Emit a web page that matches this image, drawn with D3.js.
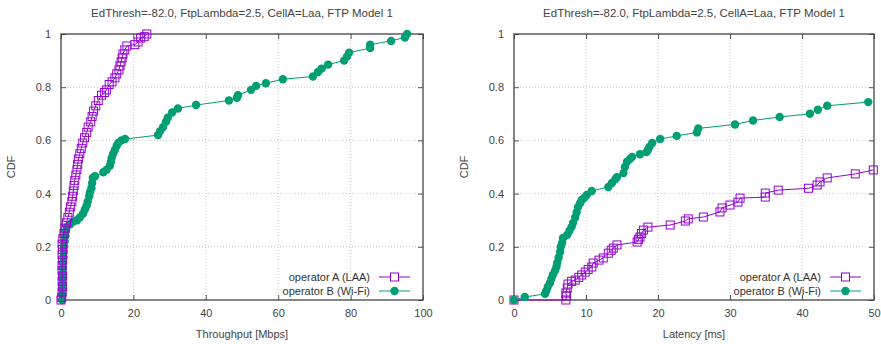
<!DOCTYPE html>
<html>
<head>
<meta charset="utf-8">
<script src="https://cdn.jsdelivr.net/npm/d3@7"></script>
<style>
  html, body { margin: 0; padding: 0; background: #fff; }
  svg { display: block; font-family: "Liberation Sans", Arial, sans-serif; }
  .tick-label { font-size: 11px; fill: #444; }
  .title { font-size: 11.5px; fill: #444; }
  .axis-label { font-size: 11px; fill: #444; }
  .legend-text { font-size: 11px; fill: #333; }
</style>
</head>
<body>
<svg id="chart" width="881" height="344"></svg>
<script>
// ── data (CDF curves) ──
const TITLE = 'EdThresh=-82.0, FtpLambda=2.5, CellA=Laa, FTP Model 1';
const cdfTicks = [0, 0.2, 0.4, 0.6, 0.8, 1];
const thrTicks = [0, 20, 40, 60, 80, 100];
const latTicks = [0, 10, 20, 30, 40, 50];
const seriesNames = ['operator A (LAA)', 'operator B (Wi-Fi)'];

// throughput [Mbps], operator A (LAA)
const thrLAA = [
  [0,0],[0.2,0.01],[0.3,0.03],[0.4,0.05],[0.3,0.07],[0.4,0.09],[0.3,0.11],[0.3,0.13],
  [0.4,0.15],[0.3,0.17],[0.4,0.19],[0.3,0.21],[0.5,0.23],[0.8,0.25],[1.1,0.27],[1.5,0.29],
  [1.9,0.31],[2.3,0.33],[2.6,0.35],[3.0,0.37],[3.2,0.39],[3.4,0.41],[3.6,0.43],[3.8,0.45],
  [4.1,0.47],[4.4,0.49],[4.6,0.51],[4.8,0.53],[5.2,0.55],[5.6,0.57],[6.0,0.59],[6.5,0.61],
  [7.1,0.63],[7.5,0.65],[8.2,0.67],[8.6,0.69],[9.0,0.71],[9.6,0.73],[10.3,0.75],[11.2,0.77],
  [12.0,0.78],[12.6,0.79],[13.3,0.81],[14.1,0.82],[14.9,0.835],[15.4,0.85],[16.0,0.865],
  [16.3,0.88],[16.6,0.895],[16.9,0.91],[17.1,0.925],[17.6,0.94],[18.2,0.955],[20.4,0.96],
  [21.3,0.97],[22.0,0.985],[23.0,0.99],[23.7,1.0]
];
// throughput [Mbps], operator B (Wi-Fi)
const thrWiFi = [
  [0.3,0],[0.4,0.02],[0.3,0.04],[0.5,0.06],[0.4,0.08],[0.5,0.10],[0.5,0.12],[0.6,0.14],
  [0.7,0.16],[0.8,0.18],[0.9,0.20],[1.0,0.22],[1.2,0.24],[1.4,0.26],[1.6,0.275],[2.5,0.285],
  [3.4,0.295],[4.4,0.30],[5.2,0.31],[6.1,0.325],[6.6,0.34],[7.1,0.355],[7.4,0.37],[7.8,0.39],
  [8.0,0.405],[8.4,0.42],[8.6,0.44],[8.8,0.46],[9.4,0.465],[11.7,0.48],[12.6,0.49],[13.5,0.505],
  [13.8,0.52],[14.0,0.535],[14.4,0.55],[14.9,0.565],[15.4,0.58],[15.8,0.59],[16.7,0.60],
  [17.7,0.605],[26.8,0.62],[27.4,0.635],[28.2,0.65],[29.0,0.67],[29.5,0.685],[30.7,0.705],
  [32.3,0.72],[37.3,0.733],[46.4,0.75],[48.6,0.76],[48.9,0.77],[52.5,0.79],[53.9,0.805],
  [56.6,0.815],[61.3,0.83],[69.6,0.84],[71,0.857],[72,0.87],[73.8,0.885],[78.2,0.90],
  [79,0.915],[79.6,0.93],[85.4,0.947],[85.4,0.96],[91.2,0.974],[95.0,0.987],[95.6,1.0]
];
// latency [ms], operator A (LAA)
const latLAA = [
  [0,0],[7.2,0.0],[7.3,0.015],[7.2,0.026],[7.4,0.045],[7.5,0.06],[8.0,0.07],[8.5,0.075],
  [9.0,0.085],[9.4,0.094],[9.9,0.105],[10.3,0.115],[10.8,0.124],[11.0,0.139],[11.8,0.15],
  [12.4,0.158],[13.1,0.176],[13.5,0.187],[13.8,0.195],[14.3,0.207],[17.1,0.218],[17.3,0.228],
  [17.5,0.237],[17.7,0.25],[18.0,0.263],[18.6,0.274],[21.7,0.282],[23.8,0.297],[24.2,0.305],
  [26.3,0.312],[28.6,0.331],[28.9,0.346],[30,0.357],[31.1,0.368],[31.4,0.383],[34.9,0.387],
  [34.9,0.402],[36.7,0.413],[40.9,0.42],[42.1,0.432],[42.5,0.444],[43.5,0.459],[47.4,0.474],
  [49.9,0.489]
];
// latency [ms], operator B (Wi-Fi)
const latWiFi = [
  [0,0],[1.5,0.011],[4.3,0.023],[4.5,0.035],[4.7,0.05],[5.0,0.064],[5.2,0.08],[5.4,0.095],
  [5.7,0.11],[5.9,0.125],[6.0,0.14],[6.2,0.16],[6.4,0.18],[6.5,0.20],[6.7,0.215],[6.8,0.233],
  [7.4,0.245],[7.7,0.26],[8.0,0.275],[8.2,0.29],[8.5,0.31],[8.7,0.33],[8.9,0.35],[9.2,0.365],
  [9.4,0.376],[9.8,0.385],[10.1,0.395],[10.8,0.41],[13.1,0.425],[13.6,0.44],[14.1,0.455],
  [14.3,0.462],[15.2,0.477],[15.4,0.50],[15.7,0.52],[16.1,0.53],[16.4,0.538],[17.5,0.548],
  [18.4,0.556],[18.6,0.565],[18.8,0.575],[19.2,0.59],[20.3,0.605],[22.6,0.617],[25.4,0.63],
  [25.6,0.645],[30.7,0.66],[33.2,0.675],[36.9,0.688],[41.1,0.70],[42.2,0.715],[43.5,0.73],
  [49.2,0.744]
];

const COLOR_A = '#9400d3';
const COLOR_B = '#009e73';

const svg = d3.select('#chart');

function drawPanel(cfg) {
  const x = d3.scaleLinear().domain(cfg.xDomain).range([cfg.left, cfg.right]);
  const y = d3.scaleLinear().domain([0, 1]).range([cfg.bottom, cfg.top]);
  const g = svg.append('g');
  const clipId = 'clip-' + cfg.id;

  g.append('clipPath').attr('id', clipId)
    .append('rect')
    .attr('x', cfg.left - 6).attr('y', cfg.top - 6)
    .attr('width', cfg.right - cfg.left + 12).attr('height', cfg.bottom - cfg.top + 12);

  // grid (dotted)
  g.append('g').selectAll('line.gx')
    .data(cfg.xTicks.slice(1, -1))
    .join('line')
    .attr('x1', d => x(d)).attr('x2', d => x(d))
    .attr('y1', cfg.top).attr('y2', cfg.bottom)
    .attr('stroke', '#c8c8c8').attr('stroke-dasharray', '1,2');
  g.append('g').selectAll('line.gy')
    .data(cdfTicks.slice(1, -1))
    .join('line')
    .attr('x1', cfg.left).attr('x2', cfg.right)
    .attr('y1', d => y(d)).attr('y2', d => y(d))
    .attr('stroke', '#c8c8c8').attr('stroke-dasharray', '1,2');

  // axes with inward mirrored ticks
  const axisBottom = d3.axisBottom(x).tickValues(cfg.xTicks).tickSize(-5).tickPadding(9).tickFormat(d3.format('d'));
  const axisTop = d3.axisTop(x).tickValues(cfg.xTicks).tickSize(-5).tickFormat('');
  const axisLeft = d3.axisLeft(y).tickValues(cdfTicks).tickSize(-5).tickPadding(10).tickFormat(d => d);
  const axisRight = d3.axisRight(y).tickValues(cdfTicks).tickSize(-5).tickFormat('');

  const styleAxis = sel => {
    sel.select('.domain').remove();
    sel.selectAll('.tick line').attr('stroke', '#555');
    sel.selectAll('.tick text').attr('class', 'tick-label').attr('fill', null)
      .style('font-size', null).style('font-family', null);
  };
  g.append('g').attr('transform', `translate(0,${cfg.bottom})`).call(axisBottom).call(styleAxis);
  g.append('g').attr('transform', `translate(0,${cfg.top})`).call(axisTop).call(styleAxis);
  g.append('g').attr('transform', `translate(${cfg.left},0)`).call(axisLeft).call(styleAxis);
  g.append('g').attr('transform', `translate(${cfg.right},0)`).call(axisRight).call(styleAxis);
  g.selectAll('.tick text').attr('font-size', null).attr('font-family', null);

  // border
  g.append('rect')
    .attr('x', cfg.left).attr('y', cfg.top)
    .attr('width', cfg.right - cfg.left).attr('height', cfg.bottom - cfg.top)
    .attr('fill', 'none').attr('stroke', '#444').attr('stroke-width', 1.3);

  const line = d3.line().x(d => x(d[0])).y(d => y(d[1]));
  const plot = g.append('g').attr('clip-path', `url(#${clipId})`);

  const drawSeries = (data, color, marker) => {
    plot.append('path').datum(data)
      .attr('d', line).attr('fill', 'none')
      .attr('stroke', color).attr('stroke-width', 1);
    if (marker === 'square') {
      plot.selectAll(null).data(data).join('rect')
        .attr('x', d => x(d[0]) - 4).attr('y', d => y(d[1]) - 4)
        .attr('width', 8).attr('height', 8)
        .attr('fill', 'none').attr('stroke', color).attr('stroke-width', 1);
    } else {
      plot.selectAll(null).data(data).join('circle')
        .attr('cx', d => x(d[0])).attr('cy', d => y(d[1])).attr('r', 4.2)
        .attr('fill', color);
    }
  };
  // order: B drawn first so A sits on top where they overlap on the left
  if (cfg.id === 'thr') {
    drawSeries(cfg.b, COLOR_B, 'circle');
    drawSeries(cfg.a, COLOR_A, 'square');
  } else {
    drawSeries(cfg.a, COLOR_A, 'square');
    drawSeries(cfg.b, COLOR_B, 'circle');
  }

  // title and axis labels
  const cx = (cfg.left + cfg.right) / 2;
  svg.append('text').attr('class', 'title').attr('text-anchor', 'middle')
    .attr('x', cx).attr('y', 17).text(TITLE);
  svg.append('text').attr('class', 'axis-label').attr('text-anchor', 'middle')
    .attr('x', cx).attr('y', 338).text(cfg.xLabel);
  svg.append('text').attr('class', 'axis-label').attr('text-anchor', 'middle')
    .attr('transform', `translate(${cfg.left - 46},${(cfg.top + cfg.bottom) / 2}) rotate(-90)`)
    .text('CDF');

  // legend
  const lg = svg.append('g');
  const rows = [
    { name: seriesNames[0], color: COLOR_A, marker: 'square', yy: 277 },
    { name: seriesNames[1], color: COLOR_B, marker: 'circle', yy: 291 }
  ];
  rows.forEach(r => {
    lg.append('text').attr('class', 'legend-text').attr('text-anchor', 'end')
      .attr('x', cfg.legendX).attr('y', r.yy + 4).text(r.name);
    const lx1 = cfg.legendX + 9, lx2 = cfg.legendX + 40, mx = (lx1 + lx2) / 2;
    lg.append('line').attr('x1', lx1).attr('x2', lx2).attr('y1', r.yy).attr('y2', r.yy)
      .attr('stroke', r.color).attr('stroke-width', 1);
    if (r.marker === 'square') {
      lg.append('rect').attr('x', mx - 4).attr('y', r.yy - 4).attr('width', 8).attr('height', 8)
        .attr('fill', '#fff').attr('stroke', r.color);
    } else {
      lg.append('circle').attr('cx', mx).attr('cy', r.yy).attr('r', 4.2).attr('fill', r.color);
    }
  });
}

drawPanel({
  id: 'thr', left: 61, right: 423, top: 34, bottom: 300,
  xDomain: [0, 100], xTicks: thrTicks, xLabel: 'Throughput [Mbps]',
  a: thrLAA, b: thrWiFi, legendX: 370
});
drawPanel({
  id: 'lat', left: 514, right: 874, top: 34, bottom: 300,
  xDomain: [0, 50], xTicks: latTicks, xLabel: 'Latency [ms]',
  a: latLAA, b: latWiFi, legendX: 821
});
</script>
</body>
</html>
